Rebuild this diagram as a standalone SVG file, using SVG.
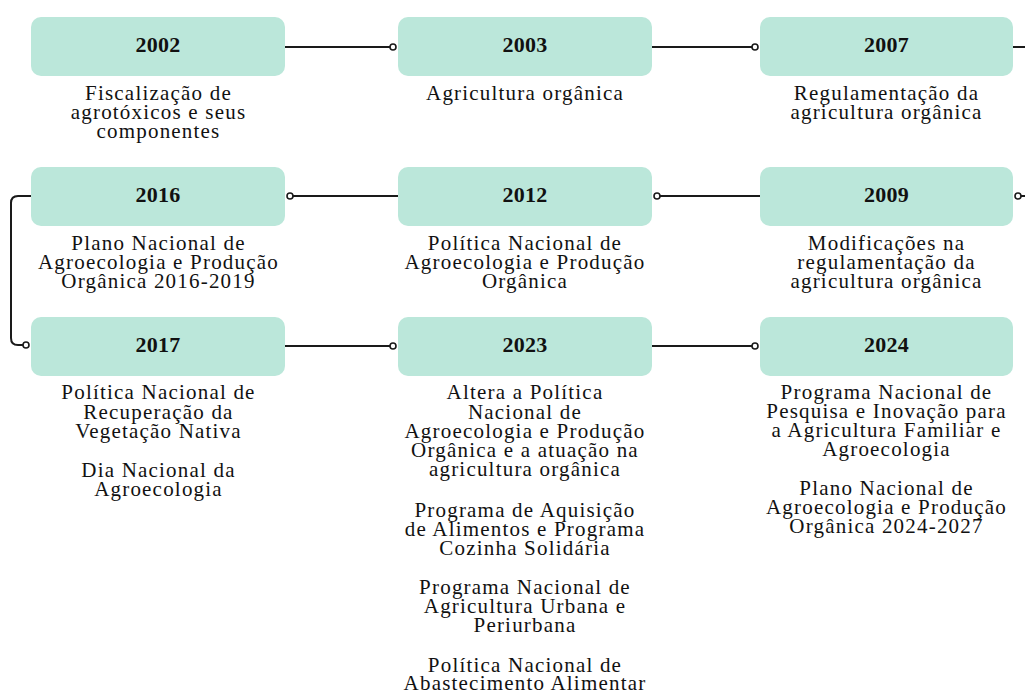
<svg xmlns="http://www.w3.org/2000/svg" width="1025" height="693" viewBox="0 0 1025 693">
<defs>
<style>
.box{fill:#bbe7da;}
.yr{font-family:"Liberation Serif","Times New Roman",serif;font-weight:bold;font-size:22px;letter-spacing:0.2px;fill:#111;text-anchor:middle;}
.d{font-family:"Liberation Serif","Times New Roman",serif;font-size:21px;letter-spacing:1.2px;fill:#111;text-anchor:middle;}
.ln{fill:none;stroke:#1a1a1a;stroke-width:2;}
.dot{fill:#fff;stroke:#1a1a1a;stroke-width:1.6;}
</style>
</defs>
<rect width="1025" height="693" fill="#fff"/>
<g id="connectors">
<path class="ln" d="M285 47H390"/>
<circle class="dot" cx="393" cy="47" r="3"/>
<path class="ln" d="M652 47H752"/>
<circle class="dot" cx="755" cy="47" r="3"/>
<path class="ln" d="M1013 47H1030"/>
<path class="ln" d="M1021 196H1030"/>
<circle class="dot" cx="1018" cy="196" r="3"/>
<path class="ln" d="M760 196H660"/>
<circle class="dot" cx="657" cy="196" r="3"/>
<path class="ln" d="M398 196H293"/>
<circle class="dot" cx="290" cy="196" r="3"/>
<path class="ln" d="M31 196H18Q11 196 11 203V338Q11 345 18 345H23"/>
<circle class="dot" cx="26" cy="345" r="3"/>
<path class="ln" d="M285 346H390"/>
<circle class="dot" cx="393" cy="346" r="3"/>
<path class="ln" d="M652 346H752"/>
<circle class="dot" cx="755" cy="346" r="3"/>
</g>
<g id="n2002">
<rect class="box" x="31" y="17" width="254" height="59" rx="10"/>
<text class="yr" x="158" y="52">2002</text>
<text class="d" x="158.5" y="100">Fiscalização de</text>
<text class="d" x="158.5" y="119">agrotóxicos e seus</text>
<text class="d" x="158.5" y="138">componentes</text>
</g>
<g id="n2003">
<rect class="box" x="398" y="17" width="254" height="59" rx="10"/>
<text class="yr" x="525" y="52">2003</text>
<text class="d" x="525" y="100">Agricultura orgânica</text>
</g>
<g id="n2007">
<rect class="box" x="760" y="17" width="253" height="59" rx="10"/>
<text class="yr" x="886.5" y="52">2007</text>
<text class="d" x="886.5" y="100">Regulamentação da</text>
<text class="d" x="886.5" y="119">agricultura orgânica</text>
</g>
<g id="n2016">
<rect class="box" x="31" y="167" width="254" height="59" rx="10"/>
<text class="yr" x="158" y="202">2016</text>
<text class="d" x="158.5" y="250">Plano Nacional de</text>
<text class="d" x="158.5" y="269">Agroecologia e Produção</text>
<text class="d" x="158.5" y="288">Orgânica 2016-2019</text>
</g>
<g id="n2012">
<rect class="box" x="398" y="167" width="254" height="59" rx="10"/>
<text class="yr" x="525" y="202">2012</text>
<text class="d" x="525" y="250">Política Nacional de</text>
<text class="d" x="525" y="269">Agroecologia e Produção</text>
<text class="d" x="525" y="288">Orgânica</text>
</g>
<g id="n2009">
<rect class="box" x="760" y="167" width="253" height="59" rx="10"/>
<text class="yr" x="886.5" y="202">2009</text>
<text class="d" x="886.5" y="250">Modificações na</text>
<text class="d" x="886.5" y="269">regulamentação da</text>
<text class="d" x="886.5" y="288">agricultura orgânica</text>
</g>
<g id="n2017">
<rect class="box" x="31" y="317" width="254" height="59" rx="10"/>
<text class="yr" x="158" y="352">2017</text>
<text class="d" x="158.5" y="399">Política Nacional de</text>
<text class="d" x="158.5" y="418.5">Recuperação da</text>
<text class="d" x="158.5" y="438">Vegetação Nativa</text>
<text class="d" x="158.5" y="477">Dia Nacional da</text>
<text class="d" x="158.5" y="496">Agroecologia</text>
</g>
<g id="n2023">
<rect class="box" x="398" y="317" width="254" height="59" rx="10"/>
<text class="yr" x="525" y="352">2023</text>
<text class="d" x="525" y="399">Altera a Política</text>
<text class="d" x="525" y="418.5">Nacional de</text>
<text class="d" x="525" y="438">Agroecologia e Produção</text>
<text class="d" x="525" y="457">Orgânica e a atuação na</text>
<text class="d" x="525" y="476">agricultura orgânica</text>
<text class="d" x="525" y="517">Programa de Aquisição</text>
<text class="d" x="525" y="536">de Alimentos e Programa</text>
<text class="d" x="525" y="555">Cozinha Solidária</text>
<text class="d" x="525" y="594">Programa Nacional de</text>
<text class="d" x="525" y="613">Agricultura Urbana e</text>
<text class="d" x="525" y="632">Periurbana</text>
<text class="d" x="525" y="671.5">Política Nacional de</text>
<text class="d" x="525" y="690">Abastecimento Alimentar</text>
</g>
<g id="n2024">
<rect class="box" x="760" y="317" width="253" height="59" rx="10"/>
<text class="yr" x="886.5" y="352">2024</text>
<text class="d" x="886.5" y="398.5">Programa Nacional de</text>
<text class="d" x="886.5" y="417.5">Pesquisa e Inovação para</text>
<text class="d" x="886.5" y="437">a Agricultura Familiar e</text>
<text class="d" x="886.5" y="456">Agroecologia</text>
<text class="d" x="886.5" y="495">Plano Nacional de</text>
<text class="d" x="886.5" y="514">Agroecologia e Produção</text>
<text class="d" x="886.5" y="533">Orgânica 2024-2027</text>
</g>
</svg>
